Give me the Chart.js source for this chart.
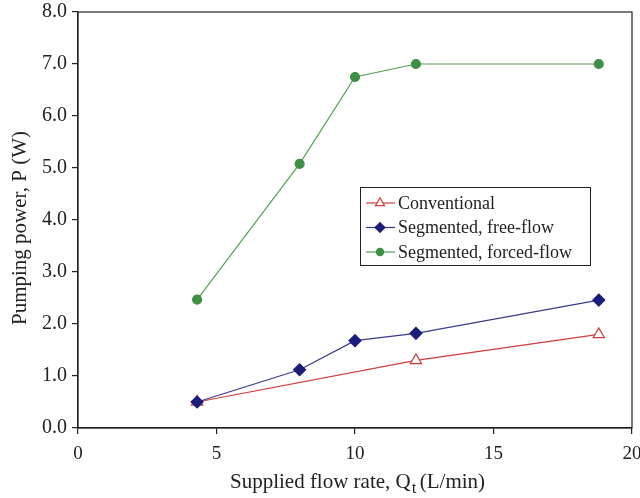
<!DOCTYPE html>
<html><head><meta charset="utf-8">
<script src="https://cdn.jsdelivr.net/npm/chart.js@4/dist/chart.umd.min.js"></script>
<style>html,body{margin:0;padding:0;background:#fff}#wrap{width:640px;height:498px}</style>
</head><body><div id="wrap"><canvas id="c" width="640" height="498"></canvas></div>
<script>
const seriesNames = ["Conventional", "Segmented, free-flow", "Segmented, forced-flow"];
const conventionalX = [4.3, 12.2, 18.8];
const conventionalY = [0.5, 1.3, 1.8];
const freeFlowX = [4.3, 8.0, 10.0, 12.2, 18.8];
const freeFlowY = [0.5, 1.12, 1.68, 1.82, 2.46];
const forcedFlowX = [4.3, 8.0, 10.0, 12.2, 18.8];
const forcedFlowY = [2.47, 5.08, 6.75, 7.0, 7.0];
const xTicks = [0, 5, 10, 15, 20];
const yTicks = [0, 1, 2, 3, 4, 5, 6, 7, 8];
const xTitle = "Supplied flow rate, Q";
const xTitleSub = "t";
const xTitleTail = " (L/min)";
const yTitle = "Pumping power, P (W)";

const SERIF = "'Liberation Serif', 'DejaVu Serif', serif";
const pts = (xs, ys) => xs.map((x, i) => ({x: x, y: ys[i]}));

const datasets = [
  {label: seriesNames[2], data: pts(forcedFlowX, forcedFlowY), borderColor: '#55a055', backgroundColor: '#3f8f45',
   pointStyle: 'circle', pointRadius: 4.5, borderWidth: 1.2, pointBorderColor: '#3f8f45'},
  {label: seriesNames[1], data: pts(freeFlowX, freeFlowY), borderColor: '#3a3a8a', backgroundColor: '#1c1c7c',
   pointStyle: 'rectRot', pointRadius: 6, borderWidth: 1.2, pointBorderColor: '#1c1c7c'},
  {label: seriesNames[0], data: pts(conventionalX, conventionalY), borderColor: '#d23c3c', backgroundColor: '#ffffff',
   pointStyle: 'triangle', pointRadius: 6.5, borderWidth: 1.2, pointBorderColor: '#d23c3c', pointBackgroundColor: '#ffffff'}
];

const noPad = s => { s.paddingLeft = 0; s.paddingRight = 0; s.paddingTop = 0; s.paddingBottom = 0; };

const deco = {
  id: 'deco',
  afterDraw(chart) {
    const ctx = chart.ctx, a = chart.chartArea;
    ctx.save();
    ctx.strokeStyle = '#222'; ctx.lineWidth = 1.2;
    ctx.strokeRect(a.left, a.top, a.right - a.left, a.bottom - a.top);
    // legend
    const lx = 360, ly = 187, lw = 230, lh = 78;
    ctx.fillStyle = '#fff'; ctx.fillRect(lx, ly, lw, lh);
    ctx.strokeStyle = '#222'; ctx.lineWidth = 1; ctx.strokeRect(lx + 0.5, ly + 0.5, lw, lh);
    ctx.font = "18px " + SERIF; ctx.textBaseline = 'middle'; ctx.textAlign = 'left';
    const order = [2, 1, 0];
    order.forEach((di, i) => {
      const ds = chart.data.datasets[di];
      const y = ly + 16 + i * 24.5;
      ctx.strokeStyle = ds.borderColor; ctx.lineWidth = 1.2;
      ctx.beginPath(); ctx.moveTo(lx + 6, y); ctx.lineTo(lx + 35, y); ctx.stroke();
      ctx.fillStyle = ds.pointBackgroundColor || ds.backgroundColor;
      ctx.strokeStyle = ds.pointBorderColor;
      Chart.helpers.drawPoint(ctx, {pointStyle: ds.pointStyle, radius: ds.pointRadius * 0.8, borderWidth: 1.2, rotation: 0}, lx + 20, y);
      ctx.fillStyle = '#222';
      ctx.fillText(ds.label, lx + 38, y + 1);
    });
    // y title
    ctx.save();
    ctx.translate(20, 228);
    ctx.rotate(-Math.PI / 2);
    ctx.textAlign = 'center'; ctx.textBaseline = 'middle';
    ctx.font = "21px " + SERIF; ctx.fillStyle = '#222';
    ctx.fillText(yTitle, 0, 0);
    ctx.restore();
    // x title with subscript
    ctx.font = "21px " + SERIF; ctx.fillStyle = '#222'; ctx.textBaseline = 'alphabetic';
    const w1 = ctx.measureText(xTitle).width;
    ctx.font = "17px " + SERIF;
    const w2 = ctx.measureText(xTitleSub).width;
    ctx.font = "21px " + SERIF;
    const w3 = ctx.measureText(xTitleTail).width;
    let x0 = 358 - (w1 + w2 + w3) / 2;
    const by = 488;
    ctx.textAlign = 'left';
    ctx.fillText(xTitle, x0, by);
    ctx.font = "17px " + SERIF;
    ctx.fillText(xTitleSub, x0 + w1 + 1, by + 5);
    ctx.font = "21px " + SERIF;
    ctx.fillText(xTitleTail, x0 + w1 + w2 - 1, by);
    ctx.restore();
  }
};

new Chart(document.getElementById('c'), {
  type: 'line',
  data: {datasets: datasets},
  options: {
    responsive: false, animation: false,
    layout: {padding: {left: 0, right: 8, top: 12, bottom: 0}},
    plugins: {legend: {display: false}, tooltip: {enabled: false}},
    elements: {line: {tension: 0}},
    scales: {
      x: {type: 'linear', min: 0, max: 20,
        afterBuildTicks: s => { s.ticks = xTicks.map(v => ({value: v})); },
        afterFit: s => { s.height = 70; noPad(s); },
        grid: {drawOnChartArea: false, tickLength: 6, color: '#222', lineWidth: 1.2},
        border: {display: true, color: '#222', width: 1.2},
        ticks: {font: {family: SERIF, size: 19}, color: '#222', padding: 9, maxRotation: 0, autoSkip: false}
      },
      y: {type: 'linear', min: 0, max: 8,
        afterBuildTicks: s => { s.ticks = yTicks.map(v => ({value: v})); },
        afterFit: s => { s.width = 78; noPad(s); },
        grid: {drawOnChartArea: false, tickLength: 6, color: '#222', lineWidth: 1.2},
        border: {display: true, color: '#222', width: 1.2},
        ticks: {font: {family: SERIF, size: 20}, color: '#222', padding: 5, callback: v => Number(v).toFixed(1)}
      }
    }
  },
  plugins: [deco]
});
</script></body></html>
